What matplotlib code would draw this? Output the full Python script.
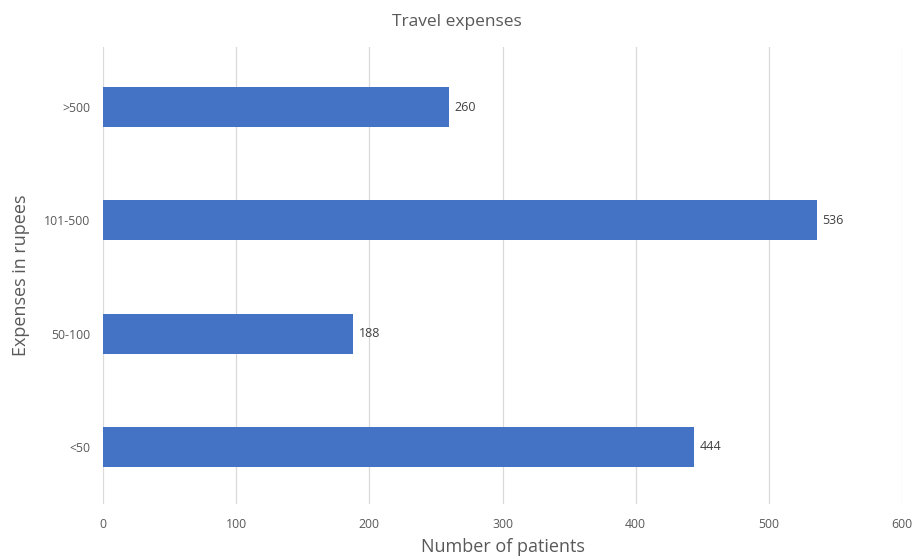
import matplotlib
matplotlib.use("Agg")
import matplotlib.pyplot as plt

plt.rcParams["font.family"] = ["Open Sans", "DejaVu Sans"]

# data
categories = ["<50", "50-100", "101-500", ">500"]
patients = [444, 188, 536, 260]
x_ticks = [0, 100, 200, 300, 400, 500, 600]

BAR = "#4472C4"
GRID = "#D9D9D9"
TEXT = "#595959"

fig = plt.figure(figsize=(9.14, 5.58), dpi=100)
ax = fig.add_axes([0.1127, 0.0968, 0.8742, 0.819])

pos = range(len(categories))
bars = ax.barh(pos, patients, height=0.353, color=BAR, zorder=3)

for b, v in zip(bars, patients):
    ax.text(v + 4, b.get_y() + b.get_height() / 2, str(v),
            va="center", ha="left", fontsize=9, color="#404040")

ax.set_xlim(0, 600)
ax.set_ylim(-0.503, 3.53)
ax.set_xticks(x_ticks)
ax.set_yticks(list(pos))
ax.set_yticklabels(categories)
ax.tick_params(axis="both", length=0, labelsize=8.8, labelcolor=TEXT)
ax.tick_params(axis="x", pad=10)
ax.tick_params(axis="y", pad=9)
ax.grid(axis="x", color=GRID, linewidth=0.9, zorder=0)
for s in ax.spines.values():
    s.set_visible(False)

ax.set_xlabel("Number of patients", fontsize=13, color=TEXT, labelpad=5)
ax.set_ylabel("Expenses in rupees", fontsize=13, color=TEXT, labelpad=10)
fig.text(0.5, 0.96, "Travel expenses", ha="center", va="center",
         fontsize=12.5, color=TEXT)

fig.savefig("out.png", dpi=100, facecolor="white")
